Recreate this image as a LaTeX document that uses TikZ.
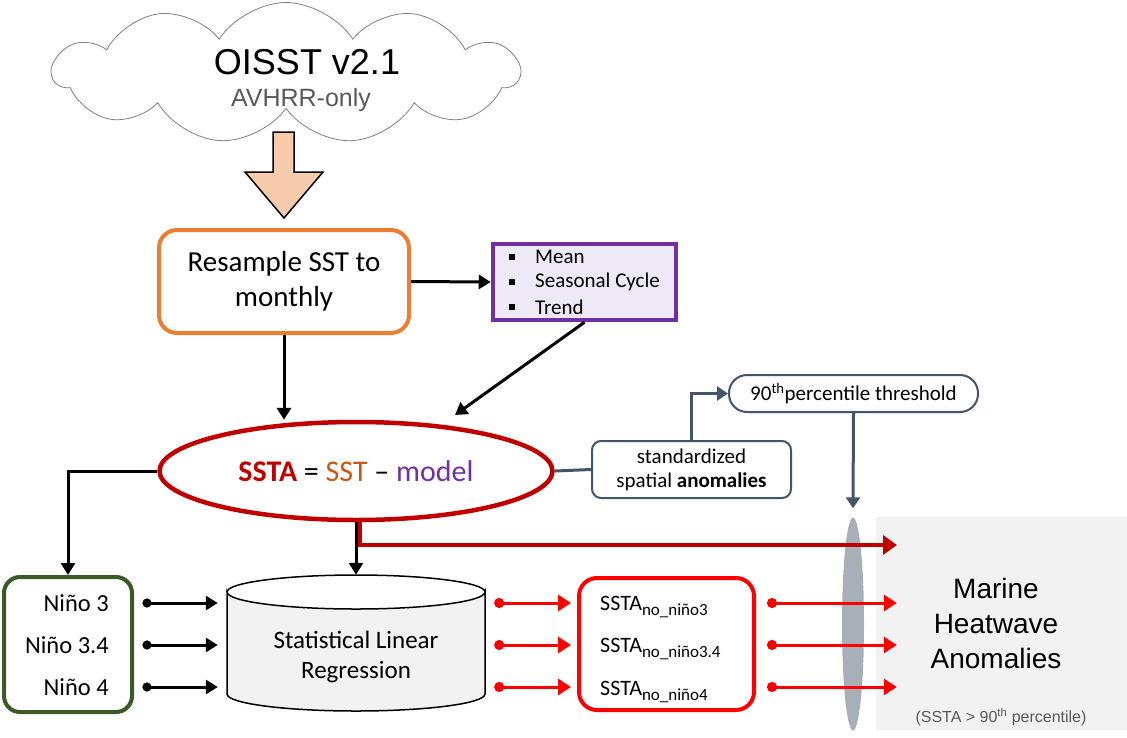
\documentclass[tikz,border=0pt]{standalone}
\usepackage{fontspec}
\setmainfont{Carlito}
\newfontfamily\arialf{Liberation Sans}
\usetikzlibrary{shapes.symbols,shapes.geometric,arrows.meta,calc}
\definecolor{orangeC}{HTML}{ED7D31}
\definecolor{peach}{HTML}{F8CBAD}
\definecolor{purpleC}{HTML}{7030A0}
\definecolor{lavender}{HTML}{EEE9F6}
\definecolor{darkred}{HTML}{C00000}
\definecolor{sstor}{HTML}{C55A11}
\definecolor{slate}{HTML}{44546A}
\definecolor{greenC}{HTML}{3A5A28}
\definecolor{grayfill}{HTML}{F2F2F2}
\definecolor{ellgray}{HTML}{A8AFB8}
\definecolor{redC}{HTML}{FF0000}
\definecolor{avgray}{HTML}{595959}
\definecolor{cloudgray}{HTML}{808080}
\begin{document}
\begin{tikzpicture}[x=1pt,y=-1pt,
  blk/.style={line width=3pt,-{Triangle[length=12pt,width=14pt]}},
  dotblk/.style={line width=3pt,{Circle[length=9pt]}-{Triangle[length=12pt,width=14pt]}},
  redarr/.style={draw=redC,line width=3pt,{Circle[length=10pt]}-{Triangle[length=13pt,width=16pt]}},
  slatearr/.style={draw=slate,line width=3pt,-{Triangle[length=11pt,width=14pt]}},
  bul/.style={fill=black,minimum size=6pt,inner sep=0pt},
  bultext/.style={anchor=west,inner sep=0pt,font=\fontsize{21}{24}\selectfont},
  nino/.style={anchor=east,inner sep=0pt,font=\fontsize{24.5}{28}\selectfont},
  sstan/.style={anchor=base west,inner sep=0pt,font=\fontsize{22}{25}\selectfont},
]
\fill[white] (0,0) rectangle (1127,737);
\useasboundingbox (0,0) rectangle (1127,737);

% block arrow from cloud to resample
\draw[fill=peach,line width=1.5pt,line join=miter] (273,132) -- (294,132) -- (294,172) -- (323,172) -- (284,218) -- (245,172) -- (273,172) -- cycle;

% cloud
\node[cloud,cloud puffs=11,cloud puff arc=115,aspect=3.3,minimum width=466pt,minimum height=141pt,
      draw=cloudgray,fill=white,line width=0.8pt,inner sep=0pt] (cloud) at (286,73) {};
\node[font=\arialf\fontsize{36}{40}\selectfont,inner sep=0pt] (oisst) at (307,62) {OISST v2.1};
\node[font=\arialf\fontsize{25}{28}\selectfont,text=avgray,inner sep=0pt] (avhrr) at (301,100) {AVHRR-only};

% resample box
\node[draw=orangeC,line width=4pt,rounded corners=18pt,minimum width=250pt,minimum height=103pt,
      align=center,font=\fontsize{29}{35}\selectfont] (resample) at (284,281.5) {Resample SST to\\monthly};

% model box
\node[draw=purpleC,fill=lavender,line width=4.5pt,minimum width=183pt,minimum height=76pt] (model) at (584.5,282) {};
\node[bul] (b1) at (512,257) {};
\node[bul] (b2) at (512,282) {};
\node[bul] (b3) at (512,307) {};
\node[bultext] (t1) at (535,257) {Mean};
\node[bultext] (t2) at (535,282) {Seasonal Cycle};
\node[bultext] (t3) at (535,307) {Trend};

% SSTA ellipse
\node[ellipse,draw=darkred,line width=4.5pt,minimum width=393pt,minimum height=98pt,inner sep=0pt,
      font=\fontsize{30}{34}\selectfont] (ssta) at (356,471)
  {{\bfseries\color{darkred}SSTA} = {\color{sstor}SST} -- {\color{purpleC}model}};

% standardized box
\node[draw=slate,line width=2pt,rounded corners=9pt,minimum width=199pt,minimum height=57pt,
      align=center,font=\fontsize{21}{24}\selectfont] (stdbox) at (691.5,469.5)
  {standardized\\spatial \textbf{anomalies}};

% percentile pill
\node[draw=slate,line width=2pt,rounded corners=18pt,minimum width=249pt,minimum height=37pt,
      font=\fontsize{21}{24}\selectfont] (pct) at (853.5,393.5) {90\textsuperscript{th}percentile threshold};

% marine heatwave area
\node[fill=grayfill,minimum width=251pt,minimum height=213pt,inner sep=0pt] (mhw) at (1001.5,623.5) {};
\node[ellipse,fill=ellgray,minimum width=22pt,minimum height=213pt,inner sep=0pt] (lens) at (853,624) {};
\node[font=\arialf\fontsize{28}{35}\selectfont,align=center,inner sep=0pt] (mhwtext) at (996,623) {Marine\\Heatwave\\Anomalies};
\node[font=\arialf\fontsize{16}{19}\selectfont,text=avgray,inner sep=0pt] (pctnote) at (1001,717) {(SSTA > 90\textsuperscript{th} percentile)};

% Nino box
\node[draw=greenC,line width=4pt,rounded corners=16pt,minimum width=128pt,minimum height=135pt] (ninobox) at (68,644.5) {};
\node[nino] (n3) at (109,603) {Niño 3};
\node[nino] (n34) at (109,645) {Niño 3.4};
\node[nino] (n4) at (109,687) {Niño 4};

% cylinder
\node[minimum width=258pt,minimum height=136pt,inner sep=0pt] (cyl) at (356,643) {};
\filldraw[fill=grayfill,line width=1.5pt] (227,592) -- (227,694) arc[start angle=180,end angle=0,x radius=129,y radius=17]
   -- (485,592) arc[start angle=0,end angle=180,x radius=129,y radius=17] -- cycle;
\draw[line width=1.5pt] (227,592) arc[start angle=180,end angle=360,x radius=129,y radius=17];
\node[align=center,font=\fontsize{25}{30}\selectfont,inner sep=0pt] (cyltext) at (356,657) {Statistical Linear\\Regression};

% SSTA no nino box
\node[draw=redC,line width=4pt,rounded corners=18pt,minimum width=175pt,minimum height=132pt] (nobox) at (666.5,644) {};
\node[sstan] (s3) at (600,610) {SSTA\raisebox{-5pt}{\fontsize{17}{17}\selectfont no\_niño3}};
\node[sstan] (s34) at (600,652) {SSTA\raisebox{-5pt}{\fontsize{17}{17}\selectfont no\_niño3.4}};
\node[sstan] (s4) at (600,695) {SSTA\raisebox{-5pt}{\fontsize{17}{17}\selectfont no\_niño4}};

% row coordinates
\coordinate (r1) at (0,603);
\coordinate (r2) at (0,645);
\coordinate (r3) at (0,687);
\coordinate (pm) at (455,415);
\coordinate (mhwin) at (897,545);

% connectors
\draw[blk] (resample.east) -- (model.west);
\draw[blk] (resample.south) -- (resample.south |- ssta.north);
\draw[blk] (model.south) -- (pm);
\draw[blk] (ssta.west) -| (ninobox.north);
\draw[blk] (ssta.south) -- (cyl.north);
\draw[draw=slate,line width=3pt] (ssta.east) -- (stdbox.west);
\draw[slatearr] (stdbox.north) |- (pct.west);
\draw[slatearr] (pct.south) -- ($(lens.north)+(0,-9)$);
\draw[draw=darkred,line width=4pt,-{Triangle[length=14pt,width=19pt]}] ($(ssta.south)+(4,0)$) |- (mhwin);

\foreach \r in {r1,r2,r3}{
  \draw[dotblk] ($(ninobox.east |- \r)+(8.5,0)$) -- ($(cyl.west |- \r)+(-9,0)$);
  \draw[redarr] ($(cyl.east |- \r)+(9,0)$) -- ($(nobox.west |- \r)+(-6,0)$);
  \draw[redarr] ($(nobox.east |- \r)+(11,0)$) -- ($(mhw.west |- \r)+(21,0)$);
}
\end{tikzpicture}
\end{document}
